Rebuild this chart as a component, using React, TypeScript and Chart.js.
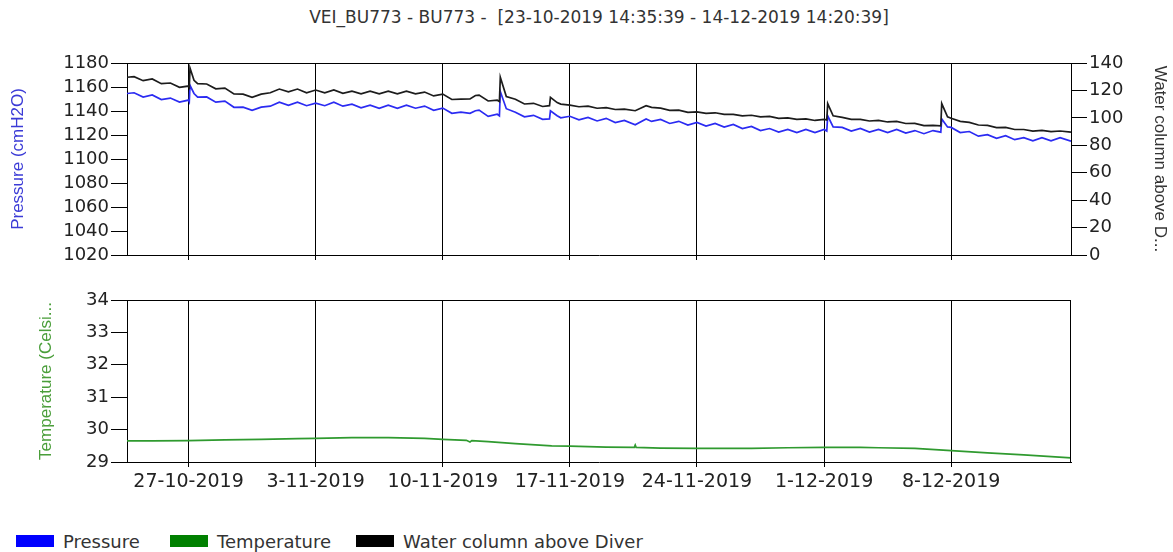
import React, { useEffect, useRef } from "react";
import { Chart, registerables } from "chart.js";

Chart.register(...registerables);

// ---- DATA (x = days since 23-10-2019 00:00) ----
const xMin = 0.61;
const xMax = 52.6;

const tickDays = [4, 11, 18, 25, 32, 39, 46];
const tickLabels = ["27-10-2019", "3-11-2019", "10-11-2019", "17-11-2019", "24-11-2019", "1-12-2019", "8-12-2019"];

const days = [
  0.61, 1, 1.5, 2, 2.5, 3, 3.5, 4, 4.04, 4.08,
  4.3, 4.5, 5, 5.5, 6, 6.5, 7, 7.5, 8, 8.5,
  9, 9.5, 10, 10.5, 11, 11.5, 12, 12.5, 13, 13.5,
  14, 14.5, 15, 15.5, 16, 16.5, 17, 17.5, 18, 18.5,
  19, 19.5, 19.8, 20, 20.5, 21, 21.12, 21.17, 21.5, 22,
  22.5, 23, 23.5, 23.88, 23.93, 24.3, 24.5, 25, 25.5, 26,
  26.5, 27, 27.5, 28, 28.6, 29.2, 29.5, 30, 30.5, 31,
  31.5, 32, 32.5, 33, 33.5, 34, 34.5, 35, 35.5, 36,
  36.5, 37, 37.5, 38, 38.5, 39, 39.15, 39.2, 39.5, 40,
  40.5, 41, 41.5, 42, 42.5, 43, 43.5, 44, 44.5, 45,
  45.43, 45.48, 45.8, 46, 46.5, 47, 47.5, 48, 48.5, 49,
  49.5, 50, 50.5, 51, 51.5, 52, 52.6,
];

const pressure = [
  1154.6, 1155.2, 1151.6, 1153.4, 1149.5, 1150.8, 1147.4, 1149.1, 1147.8, 1161.4,
  1154.6, 1151.6, 1151.7, 1147.4, 1148.3, 1143.1, 1143.2, 1140.6, 1143.2, 1144.0,
  1147.4, 1144.8, 1147.4, 1144.4, 1146.6, 1144.4, 1147.4, 1144.0, 1145.7, 1142.7,
  1144.9, 1142.3, 1144.9, 1142.3, 1144.9, 1142.3, 1144.1, 1140.6, 1142.4, 1138.1,
  1139.0, 1138.1, 1140.2, 1140.7, 1135.5, 1137.3, 1136.0, 1156.3, 1141.9, 1139.0,
  1135.1, 1136.4, 1133.0, 1133.4, 1140.2, 1136.0, 1134.3, 1135.6, 1132.6, 1134.7,
  1131.7, 1133.9, 1130.4, 1132.2, 1128.5, 1133.4, 1131.3, 1133.0, 1129.6, 1131.4,
  1128.3, 1130.5, 1127.5, 1129.7, 1126.6, 1128.8, 1125.4, 1127.1, 1123.7, 1125.4,
  1122.4, 1124.6, 1122.0, 1124.6, 1122.0, 1124.6, 1123.3, 1136.0, 1126.7, 1126.3,
  1123.3, 1125.4, 1122.4, 1124.6, 1122.0, 1124.6, 1121.6, 1123.7, 1121.1, 1123.7,
  1122.4, 1133.4, 1126.7, 1126.3, 1122.0, 1122.9, 1119.0, 1120.3, 1117.3, 1119.5,
  1116.1, 1117.8, 1115.2, 1117.8, 1115.2, 1117.8, 1114.8,
];

const waterColumn = [
  129.6, 130.0, 127.1, 128.4, 124.9, 125.4, 122.3, 123.2, 122.2, 136.3,
  127.4, 124.9, 124.7, 121.2, 121.7, 117.5, 117.3, 114.9, 117.3, 118.3,
  121.0, 119.0, 121.0, 118.3, 120.3, 118.3, 120.3, 117.9, 119.5, 117.5,
  119.5, 117.5, 119.5, 117.5, 119.5, 117.5, 118.8, 116.0, 117.3, 113.4,
  113.6, 113.8, 116.3, 116.6, 112.3, 112.9, 111.9, 129.6, 115.6, 113.6,
  110.1, 110.6, 108.3, 108.9, 115.0, 111.1, 110.0, 109.3, 108.1, 108.5,
  107.0, 107.4, 106.1, 106.3, 105.2, 108.9, 107.7, 107.1, 105.5, 105.6,
  104.0, 104.3, 103.3, 103.7, 102.6, 102.6, 101.5, 101.9, 100.7, 101.1,
  99.6, 100.0, 98.9, 99.3, 98.1, 98.9, 98.5, 110.4, 101.5, 100.4,
  98.9, 98.9, 97.7, 98.2, 97.0, 97.4, 95.9, 96.0, 94.4, 94.5,
  94.1, 110.4, 100.7, 99.7, 97.4, 96.7, 94.8, 94.5, 92.9, 93.0,
  91.5, 91.5, 90.3, 90.8, 90.0, 90.4, 89.6,
];

const tempDays = [
  0.61, 2, 4, 6, 8, 10, 11, 13, 15, 17,
  18, 19.3, 19.5, 19.6, 20.5, 22, 24, 25, 27, 28.55,
  28.6, 28.65, 30, 32, 35, 37, 39, 41, 42, 44,
  46, 48, 50, 52.6,
];
const temperature = [
  29.65, 29.65, 29.66, 29.68, 29.70, 29.72, 29.73, 29.75, 29.75, 29.73,
  29.70, 29.67, 29.62, 29.66, 29.63, 29.57, 29.50, 29.49, 29.46, 29.45,
  29.52, 29.45, 29.43, 29.42, 29.42, 29.44, 29.45, 29.45, 29.44, 29.42,
  29.35, 29.28, 29.22, 29.13,
];

const legendItems = [
  { label: "Pressure", color: "#0000ff" },
  { label: "Temperature", color: "#008000" },
  { label: "Water column above Diver", color: "#000000" },
];

// ---- STYLE ----
const W = 1173;
const TICK_FONT = "'DejaVu Sans', sans-serif";
const TITLE_FONT = "'Liberation Sans', Arial, sans-serif";
const BLUE = "#2b2bf2";
const BLACK = "#1c1c1c";
const GREEN = "#2f9a2f";

const framePlugin = {
  id: "frame",
  afterDraw(chart: any) {
    const { ctx, chartArea: a } = chart;
    ctx.save();
    ctx.strokeStyle = "#000";
    ctx.lineWidth = 1;
    ctx.beginPath();
    const t = Math.round(a.top) + 0.5;
    const r = Math.round(a.right) - 0.5;
    ctx.moveTo(Math.round(a.left), t);
    ctx.lineTo(r + 0.5, t);
    if (!chart.scales.y2) {
      ctx.moveTo(r, t);
      ctx.lineTo(r, Math.round(a.bottom));
    }
    ctx.stroke();
    ctx.restore();
  },
};

const setWeekTicks = (scale: any) => {
  scale.ticks = tickDays.map((v) => ({ value: v }));
};

function xScale(showLabels: boolean, height: number) {
  return {
    type: "linear" as const,
    min: xMin,
    max: xMax,
    afterBuildTicks: setWeekTicks,
    afterFit: (s: any) => {
      s.height = height;
    },
    ticks: {
      display: showLabels,
      autoSkip: false,
      maxRotation: 0,
      padding: 4,
      color: "#222",
      font: { family: TICK_FONT, size: 19 },
      callback: (_v: any, i: number) => tickLabels[i],
    },
    grid: { color: "#000", lineWidth: 1, tickLength: 5, drawTicks: true, drawOnChartArea: true },
    border: { display: true, color: "#000", width: 1 },
  };
}

function yTicks(step: number) {
  return {
    stepSize: step,
    autoSkip: false,
    padding: 2,
    color: "#222",
    font: { family: TICK_FONT, size: 18 },
    callback: (v: any) => String(v),
  };
}

export default function App() {
  const topRef = useRef<HTMLCanvasElement | null>(null);
  const botRef = useRef<HTMLCanvasElement | null>(null);

  useEffect(() => {
    document.body.style.margin = "0";
    const top = new Chart(topRef.current!, {
      type: "line",
      data: {
        datasets: [
          {
            label: "Water column above Diver",
            data: days.map((d, i) => ({ x: d, y: waterColumn[i] })),
            borderColor: BLACK,
            borderWidth: 1.7,
            pointRadius: 0,
            tension: 0,
            yAxisID: "y2",
          },
          {
            label: "Pressure",
            data: days.map((d, i) => ({ x: d, y: pressure[i] })),
            borderColor: BLUE,
            borderWidth: 1.7,
            pointRadius: 0,
            tension: 0,
            yAxisID: "y",
          },
        ],
      },
      options: {
        responsive: false,
        animation: false,
        events: [],
        layout: { padding: { top: 63, bottom: 10, left: 0, right: 0 } },
        plugins: { legend: { display: false }, title: { display: false }, tooltip: { enabled: false } },
        scales: {
          x: xScale(false, 5) as any,
          y: {
            position: "left",
            min: 1020,
            max: 1180,
            afterFit: (s: any) => {
              s.width = 127;
            },
            ticks: yTicks(20),
            grid: { drawOnChartArea: false, drawTicks: true, tickLength: 16, color: "#000" },
            border: { display: true, color: "#000" },
            title: {
              display: true,
              text: "Pressure (cmH2O)",
              color: "#3b3bd6",
              font: { family: TITLE_FONT, size: 17 },
              padding: { top: 8, bottom: 0 },
            },
          },
          y2: {
            position: "right",
            min: 0,
            max: 140,
            afterFit: (s: any) => {
              s.width = 102;
            },
            ticks: yTicks(20),
            grid: { drawOnChartArea: false, drawTicks: true, tickLength: 16, color: "#000" },
            border: { display: true, color: "#000" },
            title: {
              display: true,
              text: "Water column above D...",
              color: "#333",
              font: { family: TITLE_FONT, size: 17 },
              padding: { top: 3, bottom: 0 },
            },
          },
        },
      },
      plugins: [framePlugin],
    });

    const bot = new Chart(botRef.current!, {
      type: "line",
      data: {
        datasets: [
          {
            label: "Temperature",
            data: tempDays.map((d, i) => ({ x: d, y: temperature[i] })),
            borderColor: GREEN,
            borderWidth: 1.7,
            pointRadius: 0,
            tension: 0,
          },
        ],
      },
      options: {
        responsive: false,
        animation: false,
        events: [],
        layout: { padding: { top: 30, bottom: 0, left: 0, right: 102 } },
        plugins: { legend: { display: false }, title: { display: false }, tooltip: { enabled: false } },
        scales: {
          x: xScale(true, 38) as any,
          y: {
            position: "left",
            min: 29,
            max: 34,
            afterFit: (s: any) => {
              s.width = 127;
            },
            ticks: yTicks(1),
            grid: { drawOnChartArea: false, drawTicks: true, tickLength: 16, color: "#000" },
            border: { display: true, color: "#000" },
            title: {
              display: true,
              text: "Temperature (Celsi...",
              color: "#4a9e3a",
              font: { family: TITLE_FONT, size: 17 },
              padding: { top: 36, bottom: 0 },
            },
          },
        },
      },
      plugins: [framePlugin],
    });

    return () => {
      top.destroy();
      bot.destroy();
    };
  }, []);

  const legendX = [16, 170, 356];

  return (
    <div style={{ position: "relative", width: W, height: 552, background: "#fff", overflow: "hidden" }}>
      <div
        style={{
          position: "absolute",
          left: 127,
          width: 944,
          top: 7,
          textAlign: "center",
          fontFamily: TICK_FONT,
          fontSize: 17,
          lineHeight: "20px",
          color: "#333",
          whiteSpace: "pre",
        }}
      >
        {"VEI_BU773 - BU773 -  [23-10-2019 14:35:39 - 14-12-2019 14:20:39]"}
      </div>
      <canvas ref={topRef} width={W} height={270} style={{ position: "absolute", left: 0, top: 0, display: "block" }} />
      <canvas ref={botRef} width={W} height={230} style={{ position: "absolute", left: 0, top: 270, display: "block" }} />
      {legendItems.map((it, i) => (
        <div
          key={it.label}
          style={{
            position: "absolute",
            left: legendX[i],
            top: 531,
            height: 20,
            display: "flex",
            alignItems: "center",
            fontFamily: TICK_FONT,
            fontSize: 18,
            color: "#333",
            whiteSpace: "nowrap",
          }}
        >
          <span style={{ display: "inline-block", width: 38, height: 12, background: it.color, marginRight: 9 }} />
          <span>{it.label}</span>
        </div>
      ))}
    </div>
  );
}
